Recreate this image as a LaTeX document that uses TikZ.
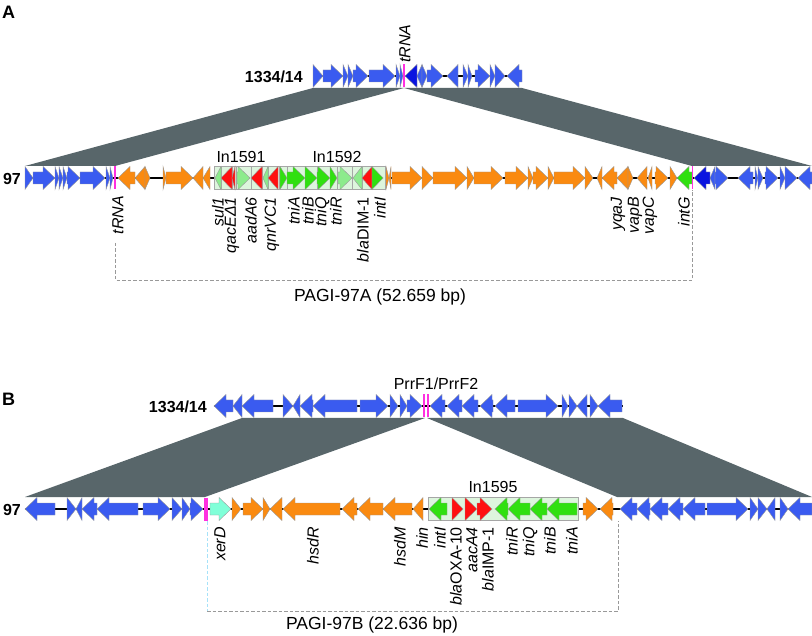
\documentclass[tikz,border=0pt]{standalone}
\usepackage{fontspec}
\setmainfont{Liberation Sans}
\definecolor{gblue}{HTML}{3A5BF0}
\definecolor{gdblue}{HTML}{0A14E0}
\definecolor{gorange}{HTML}{FA8A10}
\definecolor{ggreen}{HTML}{30E010}
\definecolor{glgreen}{HTML}{8CEB8C}
\definecolor{gred}{HTML}{FF1010}
\definecolor{gcyan}{HTML}{80FFD8}
\definecolor{gmag}{HTML}{FF30E0}
\definecolor{bandc}{HTML}{58666A}
\definecolor{boxg}{HTML}{DDF5DD}
\newcommand\geneR[3]{\pgfmathsetmacro\hl{min(12,#2-#1)}\pgfmathsetmacro\xb{#2-\hl}%
  \filldraw[gene,fill=#3] (#1,\ty-6)--(\xb,\ty-6)--(\xb,\ty-11.5)--(#2,\ty)--(\xb,\ty+11.5)--(\xb,\ty+6)--(#1,\ty+6)--cycle;}
\newcommand\geneL[3]{\pgfmathsetmacro\hl{min(12,#2-#1)}\pgfmathsetmacro\xb{#1+\hl}%
  \filldraw[gene,fill=#3] (#2,\ty-6)--(\xb,\ty-6)--(\xb,\ty-11.5)--(#1,\ty)--(\xb,\ty+11.5)--(\xb,\ty+6)--(#2,\ty+6)--cycle;}
\begin{document}
\begin{tikzpicture}[x=1pt,y=-1pt,
  gene/.style={draw=black!40,line width=0.4pt},
  backbone/.style={line width=2pt},
  band/.style={fill=bandc},
  lbl/.style={font=\fontsize{16}{18}\selectfont\itshape,inner sep=0pt,rotate=90,anchor=east},
  txt/.style={font=\fontsize{16}{18}\selectfont,inner sep=0pt},
  bigtxt/.style={font=\fontsize{17.5}{19}\selectfont,inner sep=0pt},
  btxt/.style={font=\fontsize{16}{18}\selectfont\bfseries,inner sep=0pt},
  dashline/.style={draw=black!40,dash pattern=on 3.5pt off 2pt,line width=0.7pt},
  cell/.style={fill=boxg,draw=black!35,line width=0.5pt},
  mag/.style={fill=gmag}]
\useasboundingbox (0,0) rectangle (812,636);
% ================= Panel A =================
\node[btxt,font=\fontsize{18}{20}\selectfont\bfseries,anchor=base west] (lA) at (2,19) {A};
% bands
\fill[band] (313,88)--(404,88)--(115,166)--(25,166)--cycle;
\fill[band] (404,88)--(522,88)--(812,166)--(692,166)--cycle;
% top track
\def\ty{76}
\draw[backbone] (313,\ty)--(522,\ty);
\geneR{313}{323}{gblue}\geneR{323}{343}{gblue}\geneR{343}{348}{gblue}\geneR{348}{353}{gblue}
\geneR{353}{368}{gblue}\geneR{369}{395}{gblue}\geneR{396}{400}{gblue}\geneR{400}{403}{gblue}
\geneL{405}{417}{gdblue}\geneL{417}{422}{gblue}\geneR{422}{427}{gblue}\geneR{427}{443}{gblue}
\geneL{447}{458}{gblue}\geneR{463}{468}{gblue}\geneR{468}{472}{gblue}\geneR{475}{490}{gblue}
\geneR{490}{495}{gblue}\geneR{495}{505}{gblue}\geneL{507}{522}{gblue}
\fill[mag] (403.3,64.5) rectangle (404.8,87.5);
\node[btxt,anchor=east] (s1) at (303,77) {1334/14};
\node[lbl,anchor=west] (trnaT) at (405,63) {tRNA};
% bottom track
\def\ty{178}
\draw[backbone] (25,\ty)--(812,\ty);
\geneR{25}{33}{gblue}\geneR{33}{55}{gblue}\geneR{55}{59}{gblue}\geneR{59}{63}{gblue}\geneR{63}{67}{gblue}
\geneR{67}{80}{gblue}\geneR{80}{105}{gblue}\geneR{106}{110}{gblue}\geneR{110}{113}{gblue}
\fill[mag] (114.3,166.5) rectangle (115.8,189.5);
\geneL{118}{135}{gorange}\geneL{135}{145}{gorange}\geneR{145}{150}{gorange}\geneR{163}{166}{gorange}
\geneR{166}{193}{gorange}\geneL{193}{203}{gorange}\geneL{203}{210}{gorange}
% integron cells
\foreach \a/\b in {214/221,221/232,232/236,236/251,251/262,262/268,268/279,279/287,287/305,305/317,317/330,330/337.5,337.5/352.5,352.5/362,362/372,372/385}
  \filldraw[cell] (\a,166.5) rectangle (\b,189.5);
\geneL{215}{221}{glgreen}\geneL{221}{232}{gred}\geneL{232}{235}{gred}\geneR{237}{250}{glgreen}
\geneL{251}{262}{gred}\geneL{263}{268}{glgreen}\geneL{268}{278}{gred}
\geneR{280}{287}{ggreen}\geneR{287}{305}{ggreen}\geneR{305}{317}{ggreen}\geneR{317}{330}{ggreen}\geneR{330}{337}{ggreen}
\geneR{338}{352}{glgreen}\geneL{353}{362}{glgreen}\geneL{362}{372}{gred}\geneR{372}{383}{ggreen}
\geneR{386}{389}{gorange}\geneL{389}{391}{gorange}
\geneR{392}{422}{gorange}\geneR{422}{433}{gorange}\geneR{433}{467}{gorange}\geneR{467}{474}{gorange}
\geneR{474}{503}{gorange}\geneR{505}{528}{gorange}\geneR{528}{533}{gorange}\geneR{533}{548}{gorange}
\geneR{548}{554}{gorange}\geneR{554}{585}{gorange}\geneR{585}{593}{gorange}\geneL{597}{602}{gorange}
\geneL{602}{617}{gorange}\geneL{617}{628}{gorange}\geneR{628}{633}{gorange}\geneL{637}{647}{gorange}
\geneL{648}{652}{gorange}\geneR{655}{668}{gorange}\geneR{670}{677}{gorange}
\geneL{677}{692}{ggreen}
\fill[mag] (691.8,166.5) rectangle (693.3,189.5);
\geneL{694}{710}{gdblue}\geneL{710}{715}{gblue}\geneR{715}{728}{gblue}\geneL{738}{753}{gblue}
\geneR{755}{758}{gblue}\geneR{758}{763}{gblue}\geneR{765}{778}{gblue}\geneR{780}{785}{gblue}
\geneR{785}{797}{gblue}\geneL{798}{812}{gblue}
\node[btxt,anchor=east] (s2) at (21,179) {97};
\node[txt] (in1591) at (241,157) {In1591};
\node[txt] (in1592) at (337,157) {In1592};
% labels
\node[lbl] (a1) at (118,196) {tRNA};
\node[lbl] (a2) at (218,197) {sul1};
\node[lbl] (a3) at (232,197) {qacEΔ1};
\node[lbl] (a4) at (251,197) {aadA6};
\node[lbl] (a5) at (272,197) {qnrVC1};
\node[lbl] (a6) at (294,197) {tniA};
\node[lbl] (a7) at (308,197) {tniB};
\node[lbl] (a8) at (322,197) {tniQ};
\node[lbl] (a9) at (336,197) {tniR};
\node[lbl] (a10) at (363,197) {bla\upshape DIM-1};
\node[lbl] (a11) at (380,197) {intI};
\node[lbl] (a12) at (618,197) {yqaJ};
\node[lbl] (a13) at (635,197) {vapB};
\node[lbl] (a14) at (650,197) {vapC};
\node[lbl] (a15) at (684,197) {intG};
\coordinate (dA1) at (115,243);
\coordinate (dA2) at (115,280);
\coordinate (dA3) at (692.5,280);
\coordinate (dA4) at (692.5,190);
\draw[dashline] (dA1)--(dA2)--(dA3)--(dA4);
\node[bigtxt] (pagiA) at (380,297) {PAGI-97A (52.659 bp)};
% ================= Panel B =================
\node[btxt,font=\fontsize{18}{20}\selectfont\bfseries,anchor=base west] (lB) at (2,406) {B};
\fill[band] (242,418)--(425,418)--(205,497)--(25,497)--cycle;
\fill[band] (427,418)--(623,418)--(812,497)--(617,497)--cycle;
\def\ty{406}
\draw[backbone] (214,\ty)--(623,\ty);
\geneL{214}{233}{gblue}\geneL{233}{242}{gblue}\geneL{242}{273}{gblue}\geneR{283}{293}{gblue}
\geneL{293}{300}{gblue}\geneL{300}{313}{gblue}\geneL{313}{357}{gblue}\geneR{360}{388}{gblue}
\geneR{390}{398}{gblue}\geneR{400}{407}{gblue}\geneR{407}{422}{gblue}
\fill[mag] (423,394.5) rectangle (425,417.5);
\fill[mag] (427,394.5) rectangle (429,417.5);
\geneL{430}{445}{gblue}\geneL{447}{462}{gblue}\geneL{462}{478}{gblue}\geneL{480}{493}{gblue}
\geneL{495}{515}{gblue}\geneR{518}{558}{gblue}\geneR{562}{568}{gblue}\geneR{569}{577}{gblue}
\geneL{577}{587}{gblue}\geneR{590}{598}{gblue}\geneL{598}{622}{gblue}
\node[btxt,anchor=east] (s3) at (207,407) {1334/14};
\node[txt] (prrf) at (436,384) {PrrF1/PrrF2};
\def\ty{509}
\draw[backbone] (25,\ty)--(812,\ty);
\geneL{25}{55}{gblue}\geneR{67}{76}{gblue}\geneL{76}{82}{gblue}\geneL{82}{97}{gblue}
\geneL{97}{138}{gblue}\geneR{143}{170}{gblue}\geneR{172}{182}{gblue}\geneR{182}{190}{gblue}\geneR{190}{203}{gblue}
\fill[mag] (204,497.5) rectangle (208,520.5);
\geneR{210}{231}{gcyan}
\geneR{232}{241}{gorange}\geneR{243}{263}{gorange}\geneR{263}{270}{gorange}\geneL{270}{282}{gorange}
\geneL{283}{340}{gorange}\geneL{342}{357}{gorange}\geneL{358}{383}{gorange}\geneL{383}{412}{gorange}
\geneL{413}{423}{gorange}
\filldraw[cell] (428,497.5) rectangle (578,520.5);
\geneL{429}{447}{ggreen}\geneR{452}{463}{gred}\geneR{465}{477}{gred}\geneR{477}{492}{gred}
\geneL{495}{508}{ggreen}\geneL{508}{530}{ggreen}\geneL{530}{547}{ggreen}\geneL{547}{577}{ggreen}
\geneR{583}{598}{gorange}\geneL{600}{613}{gorange}
\geneL{620}{637}{gblue}\geneL{637}{650}{gblue}\geneL{650}{668}{gblue}\geneL{668}{683}{gblue}
\geneL{683}{705}{gblue}\geneR{707}{748}{gblue}\geneR{750}{758}{gblue}\geneR{758}{767}{gblue}
\geneL{767}{775}{gblue}\geneR{780}{788}{gblue}\geneL{788}{812}{gblue}
\node[btxt,anchor=east] (s4) at (21,510) {97};
\node[txt] (in1595) at (493,487) {In1595};
\node[lbl] (b1) at (220,527) {xerD};
\node[lbl] (b2) at (313,527) {hsdR};
\node[lbl] (b3) at (400,527) {hsdM};
\node[lbl] (b4) at (422,527) {hin};
\node[lbl] (b5) at (440,527) {intI};
\node[lbl] (b6) at (456,527) {bla\upshape OXA-10};
\node[lbl] (b7) at (472,527) {aacA4};
\node[lbl] (b8) at (488,527) {bla\upshape IMP-1};
\node[lbl] (b9) at (512,527) {tniR};
\node[lbl] (b10) at (530,527) {tniQ};
\node[lbl] (b11) at (550,527) {tniB};
\node[lbl] (b12) at (572,527) {tniA};
\coordinate (dB1) at (207,521);
\coordinate (dB2) at (207,611);
\coordinate (dB3) at (618,611);
\coordinate (dB4) at (618,521);
\draw[dashline,draw=cyan!35] (dB1)--(dB2);
\draw[dashline] (dB2)--(dB3)--(dB4);
\node[bigtxt] (pagiB) at (372,625) {PAGI-97B (22.636 bp)};
\end{tikzpicture}
\end{document}
